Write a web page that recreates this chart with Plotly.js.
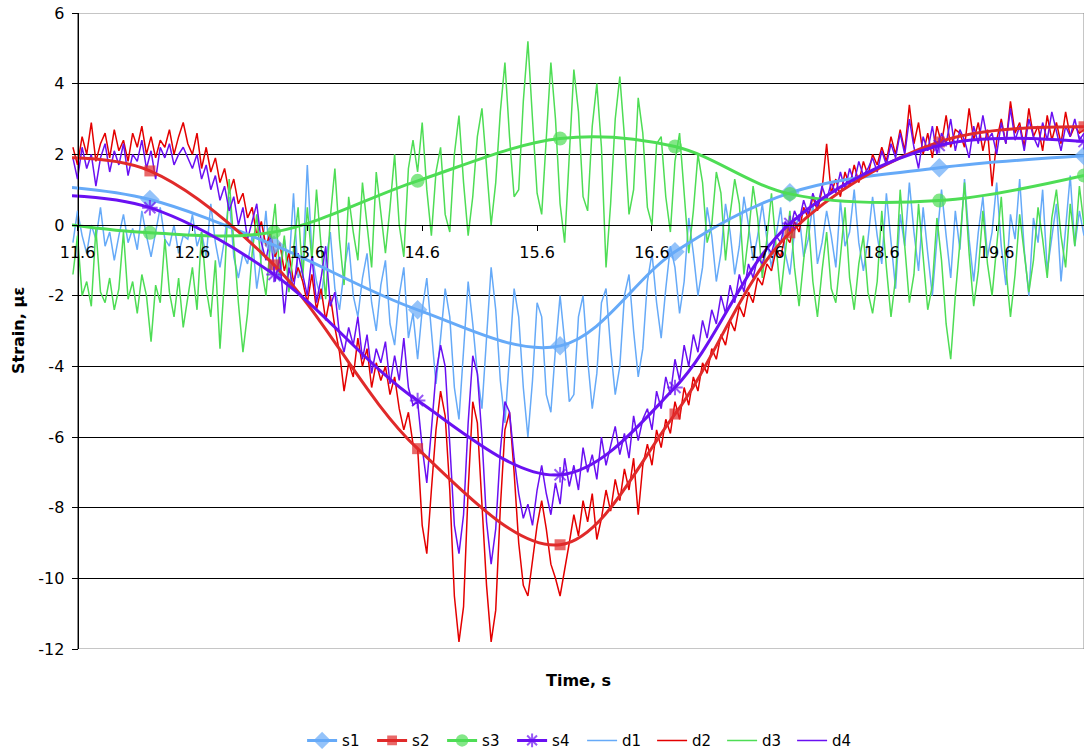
<!DOCTYPE html>
<html>
<head>
<meta charset="utf-8">
<script src="https://cdn.plot.ly/plotly-3.0.1.min.js"></script>
<style>
  html, body { margin: 0; padding: 0; background: #fff; }
  #chart { width: 1086px; height: 755px; }
</style>
</head>
<body>
<div id="chart"></div>
<script>
// Sample clock of the measured strain records (s)
const T0 = 11.56;
const DT = 0.04;

// Measured strain records d1..d4 (με), one row per second
const d1 = [
  -0.5,0.4,-0.3,-0.8,0.0, -0.4,0.5,-0.6,-0.2,-1.0, -0.3,0.3,-0.5,-0.1,-0.7, 0.4,-0.3,-0.9,-0.2,0.5, -0.4,-0.6,0.0,-0.8,-0.3,
  -0.4,0.3,-0.6,-0.2,-0.9, 0.6,-0.5,-1.2,-0.4,0.8, -0.9,-1.5,-0.8,-1.1,-0.3, -1.8,-0.9,0.4,-1.3,-0.7, -1.6,-0.4,-1.2,0.9,-1.5,
  -1.2,1.7,-0.8,-1.6,-2.1, -1.0,-0.2,-1.8,-2.4,-1.3, -0.5,-2.0,-2.6,-1.5,-0.8, -2.2,-3.0,-1.7,-1.0,-2.8, -3.4,-2.0,-1.2,-3.2,-2.5,
  -3.8,-2.4,-1.5,-3.0,-4.5, -3.2,-1.8,-2.6,-4.6,-5.5, -3.5,-1.6,-2.8,-4.2,-5.2, -3.3,-1.2,-2.4,-4.4,-5.6, -3.6,-1.8,-2.6,-4.6,-6.0,
  -4.4,-2.2,-2.6,-4.8,-5.3, -3.5,-2.0,-3.3,-5.0,-4.8, -2.6,-2.0,-3.8,-5.2,-4.2, -2.2,-1.8,-3.5,-4.8,-4.0, -2.0,-1.4,-3.0,-4.3,-3.5,
  -1.6,-0.8,-2.2,-3.2,-1.8, -0.6,-1.2,-2.5,-1.6,0.2, -0.8,-2.0,-1.2,0.5,-0.3, -1.6,-0.8,0.6,-0.2,-1.4, -0.6,0.8,0.0,-1.0,-0.3,
  0.6,-0.4,-1.2,-0.3,0.5, -0.8,-1.4,-0.2,0.3,-0.9, -0.4,0.6,-1.1,-0.5,0.4, -0.3,-1.2,0.7,-0.6,-0.2, 1.0,-0.5,-1.3,-0.4,0.8,
  -0.3,-1.1,0.9,-0.4,-1.8, 0.3,-0.6,1.2,-0.2,-1.3, 0.5,-0.8,-2.0,-0.4,1.0, -0.3,-1.5,0.4,-0.7,1.3, -0.4,-1.6,-0.2,0.8,-0.9,
  -0.2,1.2,-0.6,-1.7,0.3, -0.4,1.3,-0.7,-2.0,0.2, -0.5,1.0,-1.3,-0.3,0.6, -1.6,-0.2,1.4,-0.6,0.4, -0.3
];
const d2 = [
  2.2,1.7,2.5,2.0,2.9, 1.8,2.3,2.6,1.9,2.7, 2.1,2.4,1.8,2.6,2.2, 2.8,2.0,2.5,1.9,2.4, 2.2,2.7,2.0,2.5,2.9,
  2.3,2.0,2.6,1.6,2.2, 1.5,1.9,1.2,1.6,0.9, 1.3,0.6,0.9,0.2,0.5, -0.3,0.1,-0.6,-0.2,-0.9, -0.5,-1.3,-0.8,-1.6,-1.2,
  -1.6,-2.2,-1.4,-2.4,-1.8, -2.7,-2.0,-2.9,-3.6,-4.7, -3.9,-4.3,-3.2,-4.0,-3.5, -4.6,-3.9,-4.4,-4.0,-4.8, -4.3,-5.2,-5.8,-5.3,-6.2,
  -6.3,-8.5,-9.3,-7.5,-5.8, -4.7,-5.4,-7.5,-10.5,-11.8, -10.8,-7.5,-5.0,-5.6,-7.8, -10.2,-11.8,-10.9,-8.0,-5.8, -5.3,-7.0,-9.0,-10.2,-10.5,
  -9.5,-8.5,-7.8,-8.6,-9.6, -10.0,-10.5,-9.8,-9.0,-8.2, -8.8,-7.8,-8.4,-7.6,-8.9, -8.3,-7.5,-8.1,-7.2,-7.8, -6.9,-7.5,-6.6,-8.2,-6.8,
  -6.2,-6.8,-5.8,-6.3,-5.5, -5.9,-5.0,-5.5,-4.6,-5.1, -4.3,-4.7,-3.9,-4.2,-3.5, -3.8,-3.1,-3.4,-2.7,-3.0, -2.3,-2.6,-1.9,-2.2,-1.5,
  -1.7,-1.1,-1.3,-0.7,-0.9, -0.3,-0.5,0.1,-0.2,0.5, 0.2,0.8,0.4,1.0,2.3, 0.9,1.3,0.8,1.5,1.1, 1.7,1.2,1.8,1.4,2.0,
  1.7,2.2,1.8,2.5,2.0, 2.7,2.1,3.4,2.3,2.9, 2.0,2.6,1.9,2.8,2.3, 3.1,2.2,2.7,2.6,2.2, 3.3,2.4,2.9,2.1,2.7,
  1.1,2.4,3.0,2.3,3.5, 2.6,2.9,2.2,3.3,2.5, 2.8,2.1,3.1,2.4,2.9, 2.3,3.2,2.5,2.8,2.6, 2.7
];
const d3 = [
  -1.4,-0.3,-2.0,-1.6,-2.3, -0.1,-1.9,-2.2,-1.5,-2.4, -1.8,-0.2,-2.1,-1.6,-2.5, -1.4,-2.0,-3.3,-1.7,-2.2, -0.4,-1.9,-2.6,-1.5,-2.9,
  -2.0,-1.2,-2.4,-0.2,-1.8, -2.6,-1.0,-3.5,-1.5,1.3, -0.5,-2.2,-3.6,-2.5,-0.8, 0.3,-1.2,-2.0,-0.5,0.6, -1.4,-0.3,-1.9,-0.6,0.5,
  -1.5,0.5,-1.0,1.0,-0.6, -2.1,0.2,1.6,-0.4,-1.7, 0.8,-0.2,-1.0,1.2,0.0, -1.2,1.5,0.3,-0.8,0.5, 2.0,0.0,-0.9,1.6,2.4,
  1.5,2.9,1.0,-0.3,1.5, 2.2,0.3,-0.2,2.0,3.1, 1.2,-0.3,0.8,2.5,3.3, 1.6,0.0,1.2,3.2,4.6, 2.5,0.8,1.0,3.5,5.2,
  3.0,0.9,0.3,2.6,4.6, 3.0,0.6,-0.5,1.8,4.4, 3.2,0.8,0.4,2.8,4.0, 2.2,-1.2,0.6,3.0,4.2, 2.5,0.3,1.0,3.6,2.6,
  0.5,0.0,2.3,2.5,0.8, -0.2,1.8,2.6,1.0,-0.8, 0.4,2.0,1.2,-0.5,0.0, 1.5,0.9,-1.0,0.3,1.3, 0.6,-1.4,-0.3,1.1,0.2,
  -1.5,-0.4,0.9,-0.6,-2.0, -0.8,0.4,-1.2,-2.3,-1.0, 0.2,-1.6,-2.6,-1.3,-0.2, -1.8,-2.2,-0.9,0.5,-1.5, -2.4,-1.1,-0.3,-1.9,-2.5,
  -1.6,0.4,-1.2,-2.6,-1.5, 1.0,-0.6,-2.2,-1.4,0.6, -0.9,-2.4,-1.7,0.2,-1.0, -2.8,-3.8,-2.0,-0.5,1.2, -0.8,-2.3,-1.3,0.4,-1.1,
  -2.0,-0.6,0.8,-1.2,-2.6, -1.4,0.3,-0.8,-1.9,-1.0, 0.5,-0.4,-1.5,0.2,1.0, -0.3,-1.2,0.6,-0.6,1.1, 0.0
];
const d4 = [
  1.9,1.3,2.2,1.6,2.0, 1.1,1.9,2.3,1.5,2.1, 1.7,2.3,1.4,2.0,1.8, 2.4,1.6,2.1,1.3,2.2, 1.9,2.3,1.7,2.0,2.2,
  1.9,1.6,2.0,1.3,1.7, 1.0,1.4,0.7,1.1,0.4, 0.8,0.0,0.5,-0.4,0.1, 0.6,-0.5,-1.0,-0.3,-1.6, -0.9,-2.5,-1.2,-1.8,-0.8,
  -1.4,-2.0,-0.9,-2.2,-1.5, -0.6,-2.3,-1.9,-3.1,-3.6, -2.9,-3.4,-2.6,-3.8,-3.1, -4.2,-3.5,-3.9,-3.3,-4.5, -3.7,-4.4,-3.2,-4.6,-5.1,
  -5.0,-6.3,-7.3,-5.8,-4.2, -3.4,-4.0,-6.2,-8.5,-9.3, -8.2,-5.6,-3.7,-4.2,-6.0, -8.4,-9.6,-8.6,-6.4,-5.0, -5.3,-6.6,-7.6,-8.3,-7.9,
  -8.5,-7.5,-6.8,-7.6,-8.2, -7.3,-7.9,-6.6,-7.4,-6.8, -7.5,-6.3,-7.0,-6.5,-7.2, -6.0,-6.8,-6.2,-5.7,-6.5, -5.9,-6.6,-5.4,-6.1,-5.5,
  -5.2,-5.8,-4.7,-5.2,-4.3, -4.8,-3.8,-4.4,-3.4,-4.0, -3.1,-3.6,-2.7,-3.2,-2.4, -2.8,-2.0,-2.5,-1.7,-2.2, -1.4,-1.9,-1.1,-1.5,-0.9,
  -1.1,-0.6,-0.8,-0.3,-0.5, 0.1,-0.2,0.4,0.1,0.7, 0.3,0.9,0.5,1.1,0.7, 1.2,0.9,1.5,1.0,1.6, 1.2,1.8,1.4,1.6,1.9,
  1.5,2.1,1.7,2.3,1.9, 2.6,2.0,3.0,2.2,1.6, 2.5,2.1,2.8,2.0,2.6, 2.3,3.0,2.1,2.7,2.4, 1.9,2.8,2.3,3.1,2.4,
  2.6,2.0,2.9,2.3,3.3, 2.4,2.8,2.1,3.0,2.5, 2.2,2.9,2.4,3.2,2.6, 2.1,2.8,2.5,3.0,2.4, 2.6
];

// Smoothed strain curves s1..s4 (με) at their marker times (s)
const sTime = [11.552, 12.23, 13.31, 14.56, 15.80, 16.80, 17.80, 19.10, 20.36];
const s1 = [1.06, 0.72, -0.57, -2.40, -3.42, -0.76, 0.91, 1.62, 1.96];
const s2 = [1.90, 1.53, -1.13, -6.33, -9.05, -5.35, -0.22, 2.35, 2.78];
const s3 = [0.00, -0.22, -0.20, 1.25, 2.45, 2.22, 0.88, 0.69, 1.40];
const s4 = [0.83, 0.49, -1.40, -4.97, -7.07, -4.60, 0.04, 2.25, 2.36];

// Axis ticks
const xTicks = [11.6, 12.6, 13.6, 14.6, 15.6, 16.6, 17.6, 18.6, 19.6];
const yTicks = [-12, -10, -8, -6, -4, -2, 0, 2, 4, 6];

const FONT = 'DejaVu Sans, Verdana, sans-serif';
const C1 = '#66AAF8', C2 = '#E02A2A', C2d = '#E40000', C3 = '#4EDD55', C4 = '#6A10F2';

const clock = n => Array.from({ length: n }, (_, i) => +(T0 + i * DT).toFixed(2));
// the first point sits on the plot edge and carries no marker
const markerSizes = size => sTime.map((_, i) => (i === 0 ? 0 : size));

function raw(name, y, color, rank) {
  return {
    type: 'scatter', mode: 'lines', name, x: clock(y.length), y,
    line: { color, width: 1.5 }, legendrank: rank, hoverinfo: 'skip'
  };
}
function smooth(name, y, color, symbol, size, rank, open) {
  return {
    type: 'scatter', mode: 'lines+markers', name, x: sTime, y,
    line: { color, width: 3, shape: 'spline', smoothing: 1 },
    marker: open
      ? { symbol, size: markerSizes(size), color, line: { color, width: 2 } }
      : { symbol, size: markerSizes(size), color, line: { width: 0 } },
    legendrank: rank
  };
}

const traces = [
  raw('d1', d1, C1, 5),
  raw('d2', d2, C2d, 6),
  raw('d3', d3, C3, 7),
  raw('d4', d4, C4, 8),
  smooth('s1', s1, C1, 'diamond', 15, 1, false),
  smooth('s2', s2, C2, 'square', 11, 2, false),
  smooth('s3', s3, C3, 'circle', 14, 3, false),
  smooth('s4', s4, C4, 'asterisk-open', 13, 4, true)
];

const X0 = 11.552, X1 = 20.36;
const yAxisPos = (11.6 - X0) / (X1 - X0);

const layout = {
  width: 1086, height: 755,
  margin: { l: 72, r: 2, t: 13, b: 106 },
  paper_bgcolor: '#fff', plot_bgcolor: '#fff',
  font: { family: FONT, size: 16, color: '#000' },
  showlegend: true,
  legend: {
    orientation: 'h', xref: 'container', yref: 'container',
    x: 0.536, xanchor: 'center', y: 0.019, yanchor: 'middle',
    font: { family: FONT, size: 15, color: '#000' },
    traceorder: 'normal', itemwidth: 30,
    entrywidth: 25, entrywidthmode: 'pixels'
  },
  xaxis: {
    range: [X0, X1], anchor: 'free', position: 12 / 18,
    tickvals: xTicks, ticktext: xTicks.map(v => v.toFixed(1)),
    showgrid: false, zeroline: false,
    showline: true, linecolor: '#000', linewidth: 1,
    ticks: 'outside', ticklen: 5, tickcolor: '#000', tickwidth: 1,
    ticklabelstandoff: 8,
    tickfont: { family: FONT, size: 16, color: '#000' }
  },
  yaxis: {
    range: [-12, 6], anchor: 'free', position: yAxisPos,
    tickvals: yTicks, ticktext: yTicks.map(String),
    showgrid: true, gridcolor: '#000', gridwidth: 1, zeroline: false,
    showline: true, linecolor: '#000', linewidth: 1,
    ticks: 'outside', ticklen: 6, tickcolor: '#000', tickwidth: 1,
    ticklabelstandoff: 4,
    tickfont: { family: FONT, size: 16, color: '#000' }
  },
  shapes: [
    { type: 'rect', xref: 'x', yref: 'y', x0: 11.6, x1: X1, y0: -12, y1: 6,
      line: { color: '#8c8c8c', width: 1 }, layer: 'below' }
  ],
  annotations: [
    { text: '<b>Time, s</b>', xref: 'paper', yref: 'paper', x: 0.5, y: 0,
      xanchor: 'center', yanchor: 'top', yshift: -20, showarrow: false,
      font: { family: FONT, size: 16, color: '#000' } },
    { text: '<b>Strain, με</b>', xref: 'paper', yref: 'paper', x: 0, y: 0.5,
      xanchor: 'center', yanchor: 'middle', xshift: -54, textangle: -90, showarrow: false,
      font: { family: FONT, size: 16, color: '#000' } }
  ]
};

Plotly.newPlot('chart', traces, layout, { displayModeBar: false, staticPlot: true });
</script>
</body>
</html>
